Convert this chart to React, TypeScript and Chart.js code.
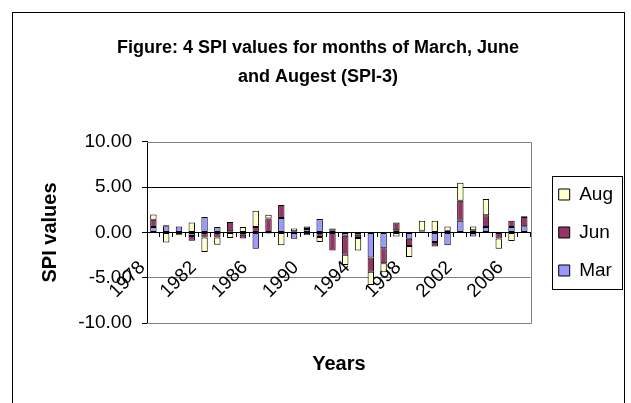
import React, { useEffect, useRef } from 'react';
import { Chart, registerables } from 'chart.js';

Chart.register(...registerables);

const years = ['1978','1979','1980','1981','1982','1983','1984','1985','1986','1987','1988','1989','1990','1991','1992','1993','1994','1995','1996','1997','1998','1999','2000','2001','2002','2003','2004','2005','2006','2007'];
const tickYears = ['1978','1982','1986','1990','1994','1998','2002','2006'];
const marValues = [0.6, 0.7, 0.65, -0.4, 1.7, 0.6, 0.15, -0.25, -1.8, -0.1, 1.6, -0.7, 0.4, 1.5, 0.2, -0.35, -0.25, -2.75, -1.75, 0.25, -0.7, 0.1, -1.05, -1.4, 1.3, -0.45, 0.6, 0.05, 0.6, 0.7];
const junValues = [0.8, 0.1, -0.2, -0.5, -0.55, -0.55, 1.0, -0.4, 0.6, 1.55, 1.45, 0.15, 0.25, -0.5, -2.0, -2.1, -0.35, -1.6, -1.65, 0.85, -0.8, 0.1, -0.5, 0.2, 2.2, 0.25, 1.3, -0.65, 0.7, 1.0];
const augValues = [0.6, -1.1, -0.1, 1.1, -1.6, -0.8, -0.6, 0.6, 1.8, 0.4, -1.4, 0.3, -0.3, -0.55, 0.25, -1.15, -1.4, -1.45, -1.0, -0.45, -1.2, 1.1, 1.3, 0.45, 2.0, 0.4, 1.8, -1.15, -0.95, 0.1];
const titleLines = ['Figure: 4 SPI values for months of March, June', 'and Augest (SPI-3)'];
const yAxisTitle = 'SPI values';
const xAxisTitle = 'Years';

const FONT = "'Liberation Sans', Arial, sans-serif";

const framePlugin = {
  id: 'frame',
  beforeDraw(chart: any) {
    const ctx = chart.ctx;
    ctx.save();
    ctx.fillStyle = '#ffffff';
    ctx.fillRect(0, 0, chart.width, chart.height);
    ctx.strokeStyle = '#000000';
    ctx.lineWidth = 1;
    ctx.strokeRect(12.5, 12.5, 612, 440);
    ctx.restore();
  },
  beforeDatasetsDraw(chart: any) {
    const { ctx, chartArea } = chart;
    ctx.save();
    ctx.strokeStyle = '#808080';
    ctx.lineWidth = 1;
    ctx.beginPath();
    ctx.moveTo(chartArea.left, Math.round(chartArea.top) + 0.5);
    ctx.lineTo(Math.round(chartArea.right) + 0.5, Math.round(chartArea.top) + 0.5);
    ctx.lineTo(Math.round(chartArea.right) + 0.5, Math.round(chartArea.bottom) + 0.5);
    ctx.lineTo(chartArea.left, Math.round(chartArea.bottom) + 0.5);
    ctx.stroke();
    ctx.restore();
  },
  afterDraw(chart: any) {
    const lg = chart.legend;
    if (!lg || !lg.legendHitBoxes || !lg.legendHitBoxes.length) return;
    const hb = lg.legendHitBoxes;
    const left = Math.min(...hb.map((h: any) => h.left)) - 7;
    const top = Math.min(...hb.map((h: any) => h.top)) - 9;
    const bottom = Math.max(...hb.map((h: any) => h.top + h.height)) + 9;
    const right = lg.right - 1;
    const ctx = chart.ctx;
    ctx.save();
    ctx.strokeStyle = '#000000';
    ctx.lineWidth = 1;
    ctx.strokeRect(Math.round(left) + 0.5, Math.round(top) + 0.5, Math.round(right - left), Math.round(bottom - top));
    ctx.restore();
  },
};

export default function App() {
  const canvasRef = useRef<HTMLCanvasElement | null>(null);

  useEffect(() => {
    const canvas = canvasRef.current;
    if (!canvas) return;
    Chart.defaults.font.family = FONT;
    Chart.defaults.color = '#000000';
    const chart = new Chart(canvas, {
      type: 'bar',
      data: {
        labels: years,
        datasets: [
          { label: 'Mar', data: marValues, backgroundColor: '#9999FF', borderColor: '#000000', borderWidth: 1, borderSkipped: false },
          { label: 'Jun', data: junValues, backgroundColor: '#993366', borderColor: '#000000', borderWidth: 1, borderSkipped: false },
          { label: 'Aug', data: augValues, backgroundColor: '#FFFFCC', borderColor: '#000000', borderWidth: 1, borderSkipped: false },
        ],
      },
      options: {
        animation: false,
        responsive: false,
        devicePixelRatio: 1,
        events: [],
        layout: { padding: { left: 13, right: 8, top: 13, bottom: 0 } },
        datasets: { bar: { barPercentage: 0.5, categoryPercentage: 1 } },
        plugins: {
          title: {
            display: true,
            text: titleLines,
            color: '#000000',
            font: { family: FONT, size: 18, weight: 'bold', lineHeight: 1.611 },
            padding: { top: 20.5, bottom: 50.5 },
          },
          legend: {
            position: 'right',
            fullSize: false,
            reverse: true,
            labels: {
              boxWidth: 11,
              boxHeight: 11,
              padding: 19,
              color: '#000000',
              font: { family: FONT, size: 19 },
            },
          },
          tooltip: { enabled: false },
        },
        scales: {
          x: {
            type: 'category',
            position: { y: 0 },
            stacked: true,
            grid: { display: true, drawOnChartArea: false, drawTicks: true, tickLength: 4, color: '#000000', offset: true },
            border: { display: true, color: '#000000', width: 1 },
            ticks: {
              autoSkip: false,
              minRotation: 45,
              maxRotation: 45,
              padding: 20,
              labelOffset: -11,
              color: '#000000',
              font: { family: FONT, size: 19 },
              callback: (_v: any, i: number) => (tickYears.includes(years[i]) ? years[i] : ''),
            },
          },
          x2: {
            type: 'category',
            position: 'bottom',
            grid: { display: false },
            border: { display: false },
            ticks: { display: false },
            title: {
              display: true,
              text: xAxisTitle,
              color: '#000000',
              font: { family: FONT, size: 20, weight: 'bold' },
              padding: { top: 0, bottom: 27 },
            },
            afterFit: (s: any) => { s.height = 80; },
          },
          y: {
            stacked: true,
            min: -10,
            max: 10,
            grid: {
              color: (c: any) => {
                const v = c.tick ? c.tick.value : null;
                if (v === 5) return '#000000';
                if (v === -5) return '#808080';
                return 'rgba(0,0,0,0)';
              },
              tickColor: '#000000',
              tickLength: 5,
              drawTicks: true,
            },
            border: { display: true, color: '#000000', width: 1 },
            ticks: {
              stepSize: 5,
              padding: 10,
              color: '#000000',
              font: { family: FONT, size: 19 },
              callback: (v: any) => Number(v).toFixed(2),
            },
            title: {
              display: true,
              text: yAxisTitle,
              color: '#000000',
              font: { family: FONT, size: 20, weight: 'bold' },
              padding: { top: 25, bottom: 0 },
            },
            afterFit: (s: any) => { s.width = 134; },
          },
          yR: {
            type: 'linear',
            position: 'right',
            display: true,
            grid: { display: false },
            border: { display: false },
            ticks: { display: false },
            afterFit: (s: any) => { s.width = 9; },
          },
        },
      },
      plugins: [framePlugin],
    } as any);
    return () => chart.destroy();
  }, []);

  return (
    <div style={{ position: 'absolute', left: 0, top: 0, width: 631, height: 403, overflow: 'hidden', background: '#fff' }}>
      <canvas ref={canvasRef} width={631} height={403} style={{ display: 'block', width: 631, height: 403 }} />
    </div>
  );
}
